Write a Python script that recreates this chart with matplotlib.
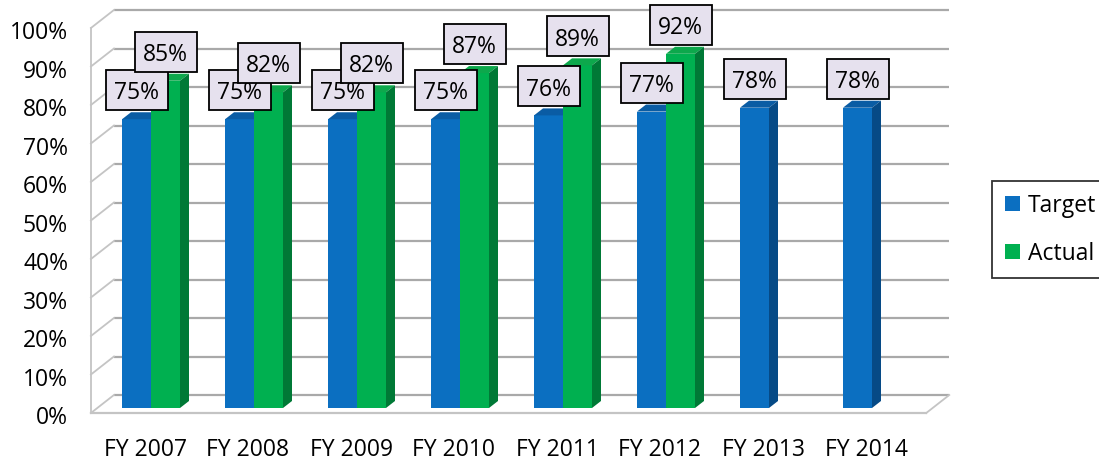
import matplotlib
matplotlib.use("Agg")
import matplotlib.pyplot as plt
from matplotlib.patches import Polygon, Rectangle, Patch

# ---- data ----
categories = ['FY 2007', 'FY 2008', 'FY 2009', 'FY 2010', 'FY 2011', 'FY 2012', 'FY 2013', 'FY 2014']
target = [75, 75, 75, 75, 76, 77, 78, 78]
actual = [85, 82, 82, 87, 89, 92, None, None]
y_ticks = [0, 10, 20, 30, 40, 50, 60, 70, 80, 90, 100]
y_tick_labels = [f'{v}%' for v in y_ticks]
series_names = ['Target', 'Actual']

# ---- style ----
FONT = 'Open Sans'
FS = 16.5
W, H = 1099, 462
PXX = 103.0      # pixels per category
PXY = 3.85       # pixels per percent
X0, Y0 = 151.0, 408.0   # pixel position of group 0 centre / 0% in bar plane
CAPHALF = 8.2    # half cap-height in pixels for baseline-centred text

blue = dict(front='#0B6FC1', top='#0A5CA4', side='#064A86')
green = dict(front='#00B050', top='#0DA84C', side='#007936')
grid_c = '#A9A9A9'
wall_c = '#C4C4C4'
box_fill = '#E6E1EE'

def dx(px):
    return px / PXX

def dy(px):
    return px / PXY

fig = plt.figure(figsize=(W / 100, H / 100), dpi=100)
ax = fig.add_axes([0, 0, 1, 1])
ax.set_xlim(-X0 / PXX, (W - X0) / PXX)
ax.set_ylim((Y0 - H) / PXY, Y0 / PXY)
ax.axis('off')

# plane offsets relative to the bar plane (in pixels: +x right, +y up)
FRONT = (-6, -5)
BACK = (17, 13)
x_left_bar = -0.525
x_right_bar = len(categories) - 1 + 0.525 + 0.06

def pt(x, v, off):
    return (x + dx(off[0]), v + dy(off[1]))

# back wall gridlines and left wall diagonals
for v in y_ticks:
    a = pt(x_left_bar, v, BACK)
    b = pt(x_right_bar, v, BACK)
    ax.plot([a[0], b[0]], [a[1], b[1]], color=grid_c, lw=1.6, zorder=1, solid_capstyle='butt')
    f = pt(x_left_bar, v, FRONT)
    ax.plot([f[0], a[0]], [f[1], a[1]], color=wall_c, lw=1.3, zorder=1)

# left wall front vertical edge
f0 = pt(x_left_bar, 0, FRONT)
f1 = pt(x_left_bar, 100, FRONT)
ax.plot([f0[0], f1[0]], [f0[1], f1[1]], color=wall_c, lw=1.3, zorder=1)

# floor front edge and right diagonal
fr = pt(x_right_bar, 0, FRONT)
br = pt(x_right_bar, 0, BACK)
ax.plot([f0[0], fr[0]], [f0[1], fr[1]], color=wall_c, lw=1.6, zorder=1)
ax.plot([fr[0], br[0]], [fr[1], br[1]], color=wall_c, lw=1.3, zorder=1)

# ---- 3D bars ----
bw = 29 / PXX
DEP = (9, 7)

def bar3d(xc, v, cols):
    xl, xr = xc - bw / 2, xc + bw / 2
    ax.bar(xc, v, width=bw, bottom=0, color=cols['front'], edgecolor='none', zorder=3)
    ddx, ddy = dx(DEP[0]), dy(DEP[1])
    top = Polygon([(xl, v), (xr, v), (xr + ddx, v + ddy), (xl + ddx, v + ddy)],
                  closed=True, facecolor=cols['top'], edgecolor='none', zorder=3)
    side = Polygon([(xr, 0), (xr + ddx, ddy), (xr + ddx, v + ddy), (xr, v)],
                   closed=True, facecolor=cols['side'], edgecolor='none', zorder=3)
    ax.add_patch(top)
    ax.add_patch(side)

for i, (t, a) in enumerate(zip(target, actual)):
    bar3d(i - bw / 2, t, blue)
    if a is not None:
        bar3d(i + bw / 2, a, green)

# ---- value labels ----
BOXW, BOXH = 62, 40
def vlabel(xc, v, z):
    yc = v + dy(29)
    r = Rectangle((xc - dx(BOXW) / 2, yc - dy(BOXH) / 2), dx(BOXW), dy(BOXH),
                  facecolor=box_fill, edgecolor='black', lw=1.3, zorder=z)
    ax.add_patch(r)
    ax.text(xc, yc - dy(CAPHALF + 1), f'{v}%', ha='center', va='baseline', fontsize=FS,
            family=FONT, color='black', zorder=z + 0.5)

for i, t in enumerate(target):
    vlabel(i - bw / 2, t, 10)
for i, a in enumerate(actual):
    if a is not None:
        vlabel(i + bw / 2, a, 12)

# ---- axis labels ----
for v, lab in zip(y_ticks, y_tick_labels):
    ax.text((68 - X0) / PXX, v - dy(8) - dy(CAPHALF), lab, ha='right', va='baseline',
            fontsize=FS, family=FONT, color='black')

for i, c in enumerate(categories):
    ax.text(i + dx(FRONT[0]), (Y0 - 448 - CAPHALF) / PXY, c, ha='center', va='baseline',
            fontsize=FS, family=FONT, color='black')

# ---- legend ----
handles = [Patch(facecolor=blue['front'], edgecolor='none'),
           Patch(facecolor=green['front'], edgecolor='none')]
leg = ax.legend(handles, series_names, loc='upper left',
                bbox_to_anchor=(992 / W, 1 - 181 / H), bbox_transform=fig.transFigure,
                prop={'family': FONT, 'size': FS}, frameon=True, fancybox=False,
                borderpad=0.55, labelspacing=1.05, handlelength=0.65, handleheight=0.65,
                handletextpad=0.35, borderaxespad=0)
leg.get_frame().set_edgecolor('black')
leg.get_frame().set_linewidth(1.3)
leg.set_zorder(20)

fig.savefig('out.png', dpi=100)
